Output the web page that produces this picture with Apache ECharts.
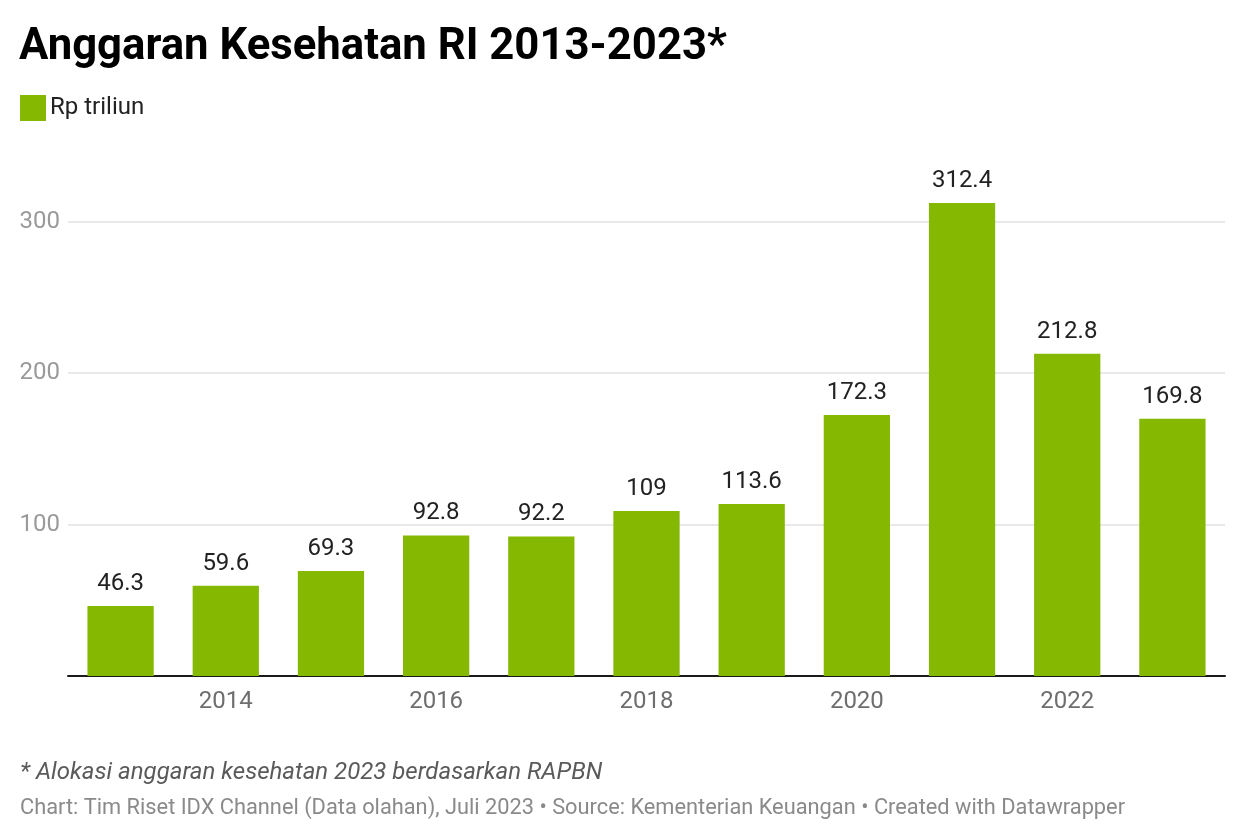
<!DOCTYPE html>
<html>
<head>
<meta charset="utf-8">
<script src="https://cdn.jsdelivr.net/npm/echarts@6/dist/echarts.min.js"></script>
<style>
html,body{margin:0;padding:0;background:#fff;}
#c{width:1240px;height:840px;}
</style>
</head>
<body>
<div id="c"></div>
<script>
const years = ['2013','2014','2015','2016','2017','2018','2019','2020','2021','2022','2023'];
const values = [46.3, 59.6, 69.3, 92.8, 92.2, 109, 113.6, 172.3, 312.4, 212.8, 169.8];
const seriesName = 'Rp triliun';
const yTicks = [0, 100, 200, 300];

const chart = echarts.init(document.getElementById('c'), null, {renderer: 'canvas'});
const FONT = 'Roboto';
chart.setOption({
  backgroundColor: '#fff',
  animation: false,
  textStyle: {fontFamily: FONT},
  title: [
    {text: 'Anggaran Kesehatan RI 2013-2023*', left: 19, top: 26, padding: 0,
     textStyle: {fontFamily: FONT, fontWeight: 'bold', fontSize: 43.7, color: '#000'}},
    {text: '* Alokasi anggaran kesehatan 2023 berdasarkan RAPBN', left: 20, top: 761, padding: 0,
     textStyle: {fontFamily: FONT, fontStyle: 'italic', fontWeight: 'normal', fontSize: 24, color: '#5a5a5a'}},
    {text: 'Chart: Tim Riset IDX Channel (Data olahan), Juli 2023 • Source: Kementerian Keuangan • Created with Datawrapper', left: 20, top: 798, padding: 0,
     textStyle: {fontFamily: FONT, fontWeight: 'normal', fontSize: 21.8, color: '#8a8a8a'}}
  ],
  legend: {
    left: 20, top: 95, padding: 0, icon: 'rect', itemWidth: 26, itemHeight: 26, itemGap: 10,
    textStyle: {fontFamily: FONT, fontSize: 24, color: '#222', padding: [0,0,0,-1]},
    data: [seriesName]
  },
  grid: {left: 68, right: 15, top: 221.7, bottom: 164},
  xAxis: {
    type: 'category', data: years,
    axisLine: {show: true, lineStyle: {color: '#1a1a1a', width: 2}},
    axisTick: {show: false},
    axisLabel: {interval: function (i) { return i % 2 === 1; }, color: '#6e6e6e', fontSize: 24, margin: 14, fontFamily: FONT}
  },
  yAxis: {
    type: 'value', min: yTicks[0], max: yTicks[yTicks.length-1], interval: 100,
    axisLine: {show: false}, axisTick: {show: false},
    axisLabel: {formatter: function (v) { return v === 0 ? '' : String(v); }, color: '#9a9a9a', fontSize: 24, margin: 8, fontFamily: FONT},
    splitLine: {show: true, showMinLine: false, lineStyle: {color: '#e2e2e2', width: 1.5}}
  },
  series: [{
    name: seriesName, type: 'bar', data: values, clip: false,
    barCategoryGap: '37%',
    itemStyle: {color: '#85b800'},
    label: {show: true, position: 'top', distance: 10, color: '#222', fontSize: 24, fontFamily: FONT}
  }]
});
</script>
</body>
</html>
